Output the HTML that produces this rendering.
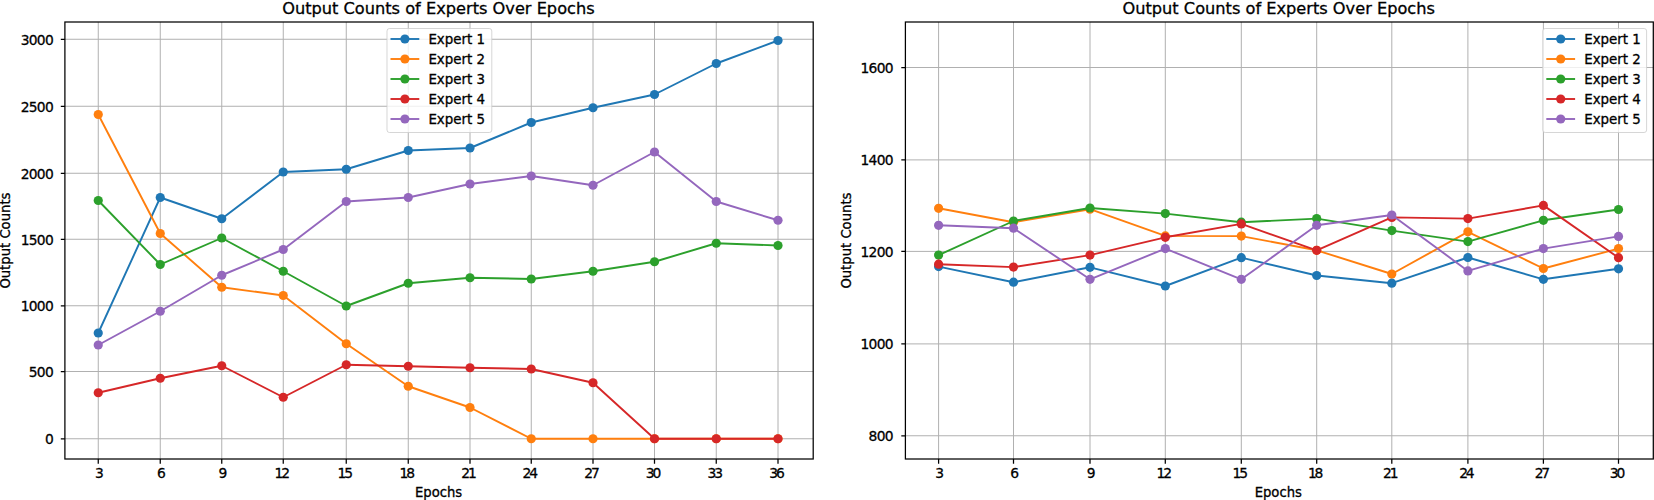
<!DOCTYPE html>
<html lang="en"><head><meta charset="utf-8"><title>Output Counts of Experts Over Epochs</title>
<style>html,body{margin:0;padding:0;background:#fff;overflow:hidden}svg{display:block;font-family:"DejaVu Sans","Liberation Sans",sans-serif;fill:#000}text{stroke:#000;stroke-width:0.3px}</style>
</head><body>
<svg width="1654" height="500" viewBox="0 0 1654 500">
<rect width="1654" height="500" fill="#fff"/>
<path d="M98.25 22.0V459.0M160.25 22.0V459.0M221.75 22.0V459.0M283.25 22.0V459.0M346.25 22.0V459.0M408.25 22.0V459.0M470.00 22.0V459.0M531.25 22.0V459.0M593.00 22.0V459.0M654.50 22.0V459.0M716.25 22.0V459.0M778.00 22.0V459.0M64.9 39.25H813.2M64.9 106.25H813.2M64.9 173.25H813.2M64.9 239.25H813.2M64.9 305.75H813.2M64.9 371.50H813.2M64.9 438.75H813.2" stroke="#b0b0b0" stroke-width="1.0" fill="none"/>
<g stroke="#1f77b4" fill="#1f77b4"><polyline points="98.25,333.00 160.25,197.50 221.75,218.75 283.25,172.00 346.25,169.25 408.25,150.50 470.00,148.00 531.25,122.50 593.00,107.75 654.50,94.50 716.25,63.50 778.00,40.50" fill="none" stroke-width="1.9" stroke-linejoin="round"/>
<circle cx="98.25" cy="333.00" r="4.6" stroke="none"/><circle cx="160.25" cy="197.50" r="4.6" stroke="none"/><circle cx="221.75" cy="218.75" r="4.6" stroke="none"/><circle cx="283.25" cy="172.00" r="4.6" stroke="none"/><circle cx="346.25" cy="169.25" r="4.6" stroke="none"/><circle cx="408.25" cy="150.50" r="4.6" stroke="none"/><circle cx="470.00" cy="148.00" r="4.6" stroke="none"/><circle cx="531.25" cy="122.50" r="4.6" stroke="none"/><circle cx="593.00" cy="107.75" r="4.6" stroke="none"/><circle cx="654.50" cy="94.50" r="4.6" stroke="none"/><circle cx="716.25" cy="63.50" r="4.6" stroke="none"/><circle cx="778.00" cy="40.50" r="4.6" stroke="none"/></g>
<g stroke="#ff7f0e" fill="#ff7f0e"><polyline points="98.25,114.50 160.25,233.50 221.75,287.25 283.25,295.50 346.25,343.75 408.25,386.25 470.00,407.50 531.25,438.75 593.00,438.75 654.50,438.75 716.25,438.75 778.00,438.75" fill="none" stroke-width="1.9" stroke-linejoin="round"/>
<circle cx="98.25" cy="114.50" r="4.6" stroke="none"/><circle cx="160.25" cy="233.50" r="4.6" stroke="none"/><circle cx="221.75" cy="287.25" r="4.6" stroke="none"/><circle cx="283.25" cy="295.50" r="4.6" stroke="none"/><circle cx="346.25" cy="343.75" r="4.6" stroke="none"/><circle cx="408.25" cy="386.25" r="4.6" stroke="none"/><circle cx="470.00" cy="407.50" r="4.6" stroke="none"/><circle cx="531.25" cy="438.75" r="4.6" stroke="none"/><circle cx="593.00" cy="438.75" r="4.6" stroke="none"/><circle cx="654.50" cy="438.75" r="4.6" stroke="none"/><circle cx="716.25" cy="438.75" r="4.6" stroke="none"/><circle cx="778.00" cy="438.75" r="4.6" stroke="none"/></g>
<g stroke="#2ca02c" fill="#2ca02c"><polyline points="98.25,200.50 160.25,264.50 221.75,238.00 283.25,271.25 346.25,306.00 408.25,283.25 470.00,277.75 531.25,279.00 593.00,271.25 654.50,261.75 716.25,243.25 778.00,245.50" fill="none" stroke-width="1.9" stroke-linejoin="round"/>
<circle cx="98.25" cy="200.50" r="4.6" stroke="none"/><circle cx="160.25" cy="264.50" r="4.6" stroke="none"/><circle cx="221.75" cy="238.00" r="4.6" stroke="none"/><circle cx="283.25" cy="271.25" r="4.6" stroke="none"/><circle cx="346.25" cy="306.00" r="4.6" stroke="none"/><circle cx="408.25" cy="283.25" r="4.6" stroke="none"/><circle cx="470.00" cy="277.75" r="4.6" stroke="none"/><circle cx="531.25" cy="279.00" r="4.6" stroke="none"/><circle cx="593.00" cy="271.25" r="4.6" stroke="none"/><circle cx="654.50" cy="261.75" r="4.6" stroke="none"/><circle cx="716.25" cy="243.25" r="4.6" stroke="none"/><circle cx="778.00" cy="245.50" r="4.6" stroke="none"/></g>
<g stroke="#d62728" fill="#d62728"><polyline points="98.25,392.75 160.25,378.25 221.75,365.75 283.25,397.25 346.25,364.75 408.25,366.25 470.00,367.75 531.25,369.00 593.00,382.75 654.50,438.75 716.25,438.75 778.00,438.75" fill="none" stroke-width="1.9" stroke-linejoin="round"/>
<circle cx="98.25" cy="392.75" r="4.6" stroke="none"/><circle cx="160.25" cy="378.25" r="4.6" stroke="none"/><circle cx="221.75" cy="365.75" r="4.6" stroke="none"/><circle cx="283.25" cy="397.25" r="4.6" stroke="none"/><circle cx="346.25" cy="364.75" r="4.6" stroke="none"/><circle cx="408.25" cy="366.25" r="4.6" stroke="none"/><circle cx="470.00" cy="367.75" r="4.6" stroke="none"/><circle cx="531.25" cy="369.00" r="4.6" stroke="none"/><circle cx="593.00" cy="382.75" r="4.6" stroke="none"/><circle cx="654.50" cy="438.75" r="4.6" stroke="none"/><circle cx="716.25" cy="438.75" r="4.6" stroke="none"/><circle cx="778.00" cy="438.75" r="4.6" stroke="none"/></g>
<g stroke="#9467bd" fill="#9467bd"><polyline points="98.25,345.00 160.25,311.25 221.75,275.25 283.25,249.50 346.25,201.50 408.25,197.50 470.00,184.00 531.25,176.00 593.00,185.25 654.50,152.00 716.25,201.50 778.00,220.25" fill="none" stroke-width="1.9" stroke-linejoin="round"/>
<circle cx="98.25" cy="345.00" r="4.6" stroke="none"/><circle cx="160.25" cy="311.25" r="4.6" stroke="none"/><circle cx="221.75" cy="275.25" r="4.6" stroke="none"/><circle cx="283.25" cy="249.50" r="4.6" stroke="none"/><circle cx="346.25" cy="201.50" r="4.6" stroke="none"/><circle cx="408.25" cy="197.50" r="4.6" stroke="none"/><circle cx="470.00" cy="184.00" r="4.6" stroke="none"/><circle cx="531.25" cy="176.00" r="4.6" stroke="none"/><circle cx="593.00" cy="185.25" r="4.6" stroke="none"/><circle cx="654.50" cy="152.00" r="4.6" stroke="none"/><circle cx="716.25" cy="201.50" r="4.6" stroke="none"/><circle cx="778.00" cy="220.25" r="4.6" stroke="none"/></g>
<rect x="64.9" y="22.0" width="748.30" height="437.00" fill="none" stroke="#000" stroke-width="1.25"/>
<path d="M98.25 459.0v4.8M160.25 459.0v4.8M221.75 459.0v4.8M283.25 459.0v4.8M346.25 459.0v4.8M408.25 459.0v4.8M470.00 459.0v4.8M531.25 459.0v4.8M593.00 459.0v4.8M654.50 459.0v4.8M716.25 459.0v4.8M778.00 459.0v4.8M64.9 39.25h-4.1M64.9 106.25h-4.1M64.9 173.25h-4.1M64.9 239.25h-4.1M64.9 305.75h-4.1M64.9 371.50h-4.1M64.9 438.75h-4.1" stroke="#000" stroke-width="1.25" fill="none"/>
<g font-size="14.9" text-anchor="middle" letter-spacing="-2.3">
<text transform="translate(98.25 478.2) scale(0.93 1)">3</text>
<text transform="translate(160.25 478.2) scale(0.93 1)">6</text>
<text transform="translate(221.75 478.2) scale(0.93 1)">9</text>
<text transform="translate(281.15 478.2) scale(0.93 1)">12</text>
<text transform="translate(344.15 478.2) scale(0.93 1)">15</text>
<text transform="translate(406.15 478.2) scale(0.93 1)">18</text>
<text transform="translate(467.90 478.2) scale(0.93 1)">21</text>
<text transform="translate(529.15 478.2) scale(0.93 1)">24</text>
<text transform="translate(590.90 478.2) scale(0.93 1)">27</text>
<text transform="translate(652.40 478.2) scale(0.93 1)">30</text>
<text transform="translate(714.15 478.2) scale(0.93 1)">33</text>
<text transform="translate(775.90 478.2) scale(0.93 1)">36</text>
</g>
<g font-size="14.9" text-anchor="end" letter-spacing="-0.8">
<text transform="translate(53.00 44.65) scale(0.93 1)">3000</text>
<text transform="translate(53.00 111.65) scale(0.93 1)">2500</text>
<text transform="translate(53.00 178.65) scale(0.93 1)">2000</text>
<text transform="translate(53.00 244.65) scale(0.93 1)">1500</text>
<text transform="translate(53.00 311.15) scale(0.93 1)">1000</text>
<text transform="translate(53.00 376.90) scale(0.93 1)">500</text>
<text transform="translate(53.00 444.15) scale(0.93 1)">0</text>
</g>
<text font-size="13.2" text-anchor="middle" x="438.6" y="497.1">Epochs</text>
<text font-size="13.2" text-anchor="middle" transform="translate(9.7 240.6) rotate(-90)">Output Counts</text>
<text font-size="16.2" text-anchor="middle" x="438.4" y="13.5">Output Counts of Experts Over Epochs</text>
<rect x="387.0" y="28.5" width="104.80" height="104.00" rx="2.5" fill="#fff" fill-opacity="0.8" stroke="#ccc" stroke-opacity="0.8" stroke-width="1"/>
<path d="M390.50 39.00h28.8" stroke="#1f77b4" stroke-width="1.9"/><circle cx="404.90" cy="39.00" r="4.6" fill="#1f77b4"/>
<text font-size="13.4" x="428.40" y="43.60">Expert 1</text>
<path d="M390.50 59.00h28.8" stroke="#ff7f0e" stroke-width="1.9"/><circle cx="404.90" cy="59.00" r="4.6" fill="#ff7f0e"/>
<text font-size="13.4" x="428.40" y="63.60">Expert 2</text>
<path d="M390.50 79.00h28.8" stroke="#2ca02c" stroke-width="1.9"/><circle cx="404.90" cy="79.00" r="4.6" fill="#2ca02c"/>
<text font-size="13.4" x="428.40" y="83.60">Expert 3</text>
<path d="M390.50 99.00h28.8" stroke="#d62728" stroke-width="1.9"/><circle cx="404.90" cy="99.00" r="4.6" fill="#d62728"/>
<text font-size="13.4" x="428.40" y="103.60">Expert 4</text>
<path d="M390.50 119.00h28.8" stroke="#9467bd" stroke-width="1.9"/><circle cx="404.90" cy="119.00" r="4.6" fill="#9467bd"/>
<text font-size="13.4" x="428.40" y="123.60">Expert 5</text>
<path d="M938.60 22.0V459.0M1013.50 22.0V459.0M1090.00 22.0V459.0M1165.30 22.0V459.0M1241.30 22.0V459.0M1316.70 22.0V459.0M1391.80 22.0V459.0M1467.90 22.0V459.0M1543.40 22.0V459.0M1618.50 22.0V459.0M905.4 67.50H1653.3M905.4 159.90H1653.3M905.4 251.40H1653.3M905.4 343.90H1653.3M905.4 435.75H1653.3" stroke="#b0b0b0" stroke-width="1.0" fill="none"/>
<g stroke="#1f77b4" fill="#1f77b4"><polyline points="938.60,266.60 1013.50,282.20 1090.00,267.30 1165.30,286.00 1241.30,257.70 1316.70,275.50 1391.80,283.20 1467.90,257.50 1543.40,279.30 1618.50,268.80" fill="none" stroke-width="1.9" stroke-linejoin="round"/>
<circle cx="938.60" cy="266.60" r="4.6" stroke="none"/><circle cx="1013.50" cy="282.20" r="4.6" stroke="none"/><circle cx="1090.00" cy="267.30" r="4.6" stroke="none"/><circle cx="1165.30" cy="286.00" r="4.6" stroke="none"/><circle cx="1241.30" cy="257.70" r="4.6" stroke="none"/><circle cx="1316.70" cy="275.50" r="4.6" stroke="none"/><circle cx="1391.80" cy="283.20" r="4.6" stroke="none"/><circle cx="1467.90" cy="257.50" r="4.6" stroke="none"/><circle cx="1543.40" cy="279.30" r="4.6" stroke="none"/><circle cx="1618.50" cy="268.80" r="4.6" stroke="none"/></g>
<g stroke="#ff7f0e" fill="#ff7f0e"><polyline points="938.60,208.30 1013.50,222.20 1090.00,209.20 1165.30,235.90 1241.30,236.10 1316.70,250.30 1391.80,274.00 1467.90,231.80 1543.40,268.50 1618.50,248.60" fill="none" stroke-width="1.9" stroke-linejoin="round"/>
<circle cx="938.60" cy="208.30" r="4.6" stroke="none"/><circle cx="1013.50" cy="222.20" r="4.6" stroke="none"/><circle cx="1090.00" cy="209.20" r="4.6" stroke="none"/><circle cx="1165.30" cy="235.90" r="4.6" stroke="none"/><circle cx="1241.30" cy="236.10" r="4.6" stroke="none"/><circle cx="1316.70" cy="250.30" r="4.6" stroke="none"/><circle cx="1391.80" cy="274.00" r="4.6" stroke="none"/><circle cx="1467.90" cy="231.80" r="4.6" stroke="none"/><circle cx="1543.40" cy="268.50" r="4.6" stroke="none"/><circle cx="1618.50" cy="248.60" r="4.6" stroke="none"/></g>
<g stroke="#2ca02c" fill="#2ca02c"><polyline points="938.60,255.10 1013.50,221.00 1090.00,208.00 1165.30,213.60 1241.30,222.20 1316.70,218.60 1391.80,230.60 1467.90,241.60 1543.40,220.30 1618.50,209.50" fill="none" stroke-width="1.9" stroke-linejoin="round"/>
<circle cx="938.60" cy="255.10" r="4.6" stroke="none"/><circle cx="1013.50" cy="221.00" r="4.6" stroke="none"/><circle cx="1090.00" cy="208.00" r="4.6" stroke="none"/><circle cx="1165.30" cy="213.60" r="4.6" stroke="none"/><circle cx="1241.30" cy="222.20" r="4.6" stroke="none"/><circle cx="1316.70" cy="218.60" r="4.6" stroke="none"/><circle cx="1391.80" cy="230.60" r="4.6" stroke="none"/><circle cx="1467.90" cy="241.60" r="4.6" stroke="none"/><circle cx="1543.40" cy="220.30" r="4.6" stroke="none"/><circle cx="1618.50" cy="209.50" r="4.6" stroke="none"/></g>
<g stroke="#d62728" fill="#d62728"><polyline points="938.60,264.20 1013.50,267.10 1090.00,255.10 1165.30,237.30 1241.30,223.90 1316.70,250.30 1391.80,217.40 1467.90,218.60 1543.40,205.40 1618.50,257.70" fill="none" stroke-width="1.9" stroke-linejoin="round"/>
<circle cx="938.60" cy="264.20" r="4.6" stroke="none"/><circle cx="1013.50" cy="267.10" r="4.6" stroke="none"/><circle cx="1090.00" cy="255.10" r="4.6" stroke="none"/><circle cx="1165.30" cy="237.30" r="4.6" stroke="none"/><circle cx="1241.30" cy="223.90" r="4.6" stroke="none"/><circle cx="1316.70" cy="250.30" r="4.6" stroke="none"/><circle cx="1391.80" cy="217.40" r="4.6" stroke="none"/><circle cx="1467.90" cy="218.60" r="4.6" stroke="none"/><circle cx="1543.40" cy="205.40" r="4.6" stroke="none"/><circle cx="1618.50" cy="257.70" r="4.6" stroke="none"/></g>
<g stroke="#9467bd" fill="#9467bd"><polyline points="938.60,225.30 1013.50,228.20 1090.00,279.30 1165.30,248.60 1241.30,279.30 1316.70,225.30 1391.80,215.00 1467.90,270.90 1543.40,248.60 1618.50,236.40" fill="none" stroke-width="1.9" stroke-linejoin="round"/>
<circle cx="938.60" cy="225.30" r="4.6" stroke="none"/><circle cx="1013.50" cy="228.20" r="4.6" stroke="none"/><circle cx="1090.00" cy="279.30" r="4.6" stroke="none"/><circle cx="1165.30" cy="248.60" r="4.6" stroke="none"/><circle cx="1241.30" cy="279.30" r="4.6" stroke="none"/><circle cx="1316.70" cy="225.30" r="4.6" stroke="none"/><circle cx="1391.80" cy="215.00" r="4.6" stroke="none"/><circle cx="1467.90" cy="270.90" r="4.6" stroke="none"/><circle cx="1543.40" cy="248.60" r="4.6" stroke="none"/><circle cx="1618.50" cy="236.40" r="4.6" stroke="none"/></g>
<rect x="905.4" y="22.0" width="747.90" height="437.00" fill="none" stroke="#000" stroke-width="1.25"/>
<path d="M938.60 459.0v4.8M1013.50 459.0v4.8M1090.00 459.0v4.8M1165.30 459.0v4.8M1241.30 459.0v4.8M1316.70 459.0v4.8M1391.80 459.0v4.8M1467.90 459.0v4.8M1543.40 459.0v4.8M1618.50 459.0v4.8M905.4 67.50h-4.1M905.4 159.90h-4.1M905.4 251.40h-4.1M905.4 343.90h-4.1M905.4 435.75h-4.1" stroke="#000" stroke-width="1.25" fill="none"/>
<g font-size="14.9" text-anchor="middle" letter-spacing="-2.3">
<text transform="translate(938.60 478.2) scale(0.93 1)">3</text>
<text transform="translate(1013.50 478.2) scale(0.93 1)">6</text>
<text transform="translate(1090.00 478.2) scale(0.93 1)">9</text>
<text transform="translate(1163.20 478.2) scale(0.93 1)">12</text>
<text transform="translate(1239.20 478.2) scale(0.93 1)">15</text>
<text transform="translate(1314.60 478.2) scale(0.93 1)">18</text>
<text transform="translate(1389.70 478.2) scale(0.93 1)">21</text>
<text transform="translate(1465.80 478.2) scale(0.93 1)">24</text>
<text transform="translate(1541.30 478.2) scale(0.93 1)">27</text>
<text transform="translate(1616.40 478.2) scale(0.93 1)">30</text>
</g>
<g font-size="14.9" text-anchor="end" letter-spacing="-0.8">
<text transform="translate(892.80 72.90) scale(0.93 1)">1600</text>
<text transform="translate(892.80 165.30) scale(0.93 1)">1400</text>
<text transform="translate(892.80 256.80) scale(0.93 1)">1200</text>
<text transform="translate(892.80 349.30) scale(0.93 1)">1000</text>
<text transform="translate(892.80 441.15) scale(0.93 1)">800</text>
</g>
<text font-size="13.2" text-anchor="middle" x="1278.3" y="497.1">Epochs</text>
<text font-size="13.2" text-anchor="middle" transform="translate(851.4 240.6) rotate(-90)">Output Counts</text>
<text font-size="16.2" text-anchor="middle" x="1278.7" y="13.5">Output Counts of Experts Over Epochs</text>
<rect x="1542.8" y="28.5" width="103.80" height="104.00" rx="2.5" fill="#fff" fill-opacity="0.8" stroke="#ccc" stroke-opacity="0.8" stroke-width="1"/>
<path d="M1546.30 39.00h28.8" stroke="#1f77b4" stroke-width="1.9"/><circle cx="1560.70" cy="39.00" r="4.6" fill="#1f77b4"/>
<text font-size="13.4" x="1584.20" y="43.60">Expert 1</text>
<path d="M1546.30 59.00h28.8" stroke="#ff7f0e" stroke-width="1.9"/><circle cx="1560.70" cy="59.00" r="4.6" fill="#ff7f0e"/>
<text font-size="13.4" x="1584.20" y="63.60">Expert 2</text>
<path d="M1546.30 79.00h28.8" stroke="#2ca02c" stroke-width="1.9"/><circle cx="1560.70" cy="79.00" r="4.6" fill="#2ca02c"/>
<text font-size="13.4" x="1584.20" y="83.60">Expert 3</text>
<path d="M1546.30 99.00h28.8" stroke="#d62728" stroke-width="1.9"/><circle cx="1560.70" cy="99.00" r="4.6" fill="#d62728"/>
<text font-size="13.4" x="1584.20" y="103.60">Expert 4</text>
<path d="M1546.30 119.00h28.8" stroke="#9467bd" stroke-width="1.9"/><circle cx="1560.70" cy="119.00" r="4.6" fill="#9467bd"/>
<text font-size="13.4" x="1584.20" y="123.60">Expert 5</text>
</svg></body></html>
